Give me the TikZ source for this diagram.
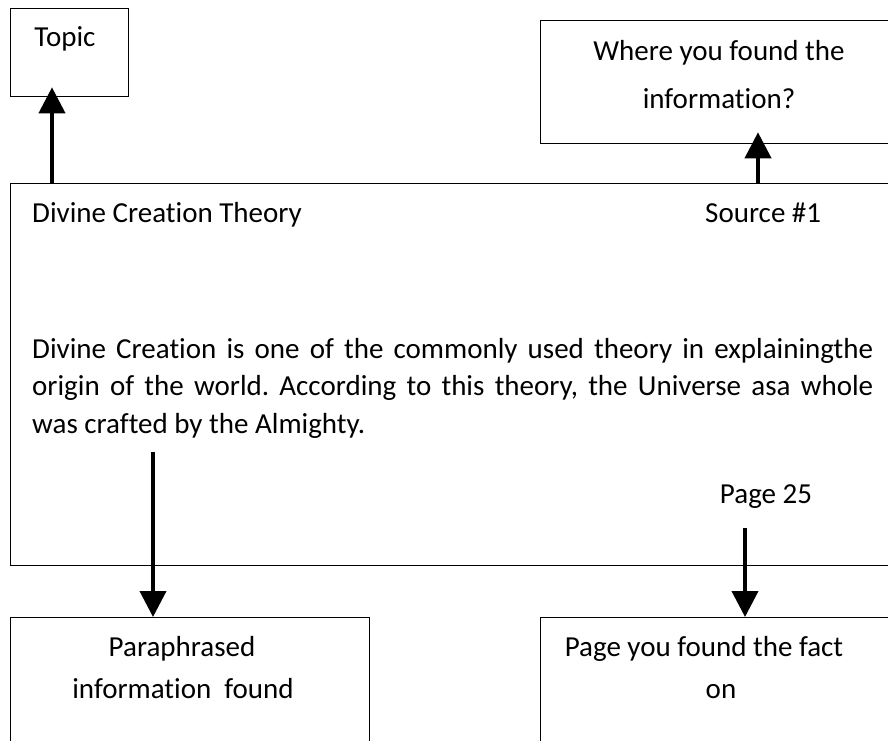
\documentclass[tikz,border=0pt]{standalone}
\usepackage{fontspec}
\setmainfont{Carlito}[RawFeature={-liga;-clig;-dlig;-rlig}]
\usetikzlibrary{arrows.meta,positioning}

\tikzset{
  box/.style={draw,line width=1.3pt,anchor=north west,inner sep=0pt},
  txt/.style={inner sep=0pt,font=\fontsize{29}{37.5}\selectfont},
  arr/.style={line width=4pt,-{Triangle[width=26pt,length=26pt]}}
}

\begin{document}
\frenchspacing
\begin{tikzpicture}[x=1pt,y=-1pt]
\useasboundingbox (0,0) rectangle (888,740);
\clip (0,0) rectangle (888,740);
% boxes
\node[box,minimum width=118pt,minimum height=88pt] (topic) at (10,8) {};
\node[box,minimum width=360pt,minimum height=123pt] (where) at (540,20) {};
\node[box,minimum width=890pt,minimum height=382pt] (card) at (10,183) {};
\node[box,minimum width=359pt,minimum height=150pt] (para) at (10,617) {};
\node[box,minimum width=360pt,minimum height=150pt] (page) at (540,617) {};
% labels
\node[txt,anchor=base] (topiclbl) at (65,46) {Topic};
\node[txt,anchor=base] (wherelbl) at (719,60) {Where you found the};
\node[txt,anchor=base] (wherelblb) at (719,108) {information?};
\node[txt,anchor=base west] (title) at (32,222) {Divine Creation Theory};
\node[txt,anchor=base west] (source) at (705,222) {Source \#1};
\node[txt,anchor=base west,text width=841pt,align=justify] (body) at (32,358)
{Divine Creation is one of the commonly used theory in explainingthe\linebreak
origin of the world. According to this theory, the Universe asa whole\linebreak
was crafted by the Almighty.};
\node[txt,anchor=base] (pagenum) at (766,503) {Page 25};
\node[txt,anchor=base] (paralbl) at (182,656) {Paraphrased};
\node[txt,anchor=base] (paralblb) at (183,698) {information~ found};
\node[txt,anchor=base] (pagelbl) at (704,656) {Page you found the fact};
\node[txt,anchor=base] (pagelblb) at (721,698) {on};
% connectors
\coordinate (crafted) at (153,452);
\coordinate (pagefoot) at (745,528);
\draw[arr,shorten >=-10pt] ([xshift=42pt]card.north west)
  -- ([xshift=42pt]card.north west |- topic.south);
\draw[arr,shorten >=-12pt] ([xshift=218pt]where.south west |- card.north)
  -- ([xshift=218pt]where.south west);
\draw[arr] (crafted) -- (crafted |- para.north);
\draw[arr] (pagefoot) -- (pagefoot |- page.north);
\end{tikzpicture}
\end{document}
